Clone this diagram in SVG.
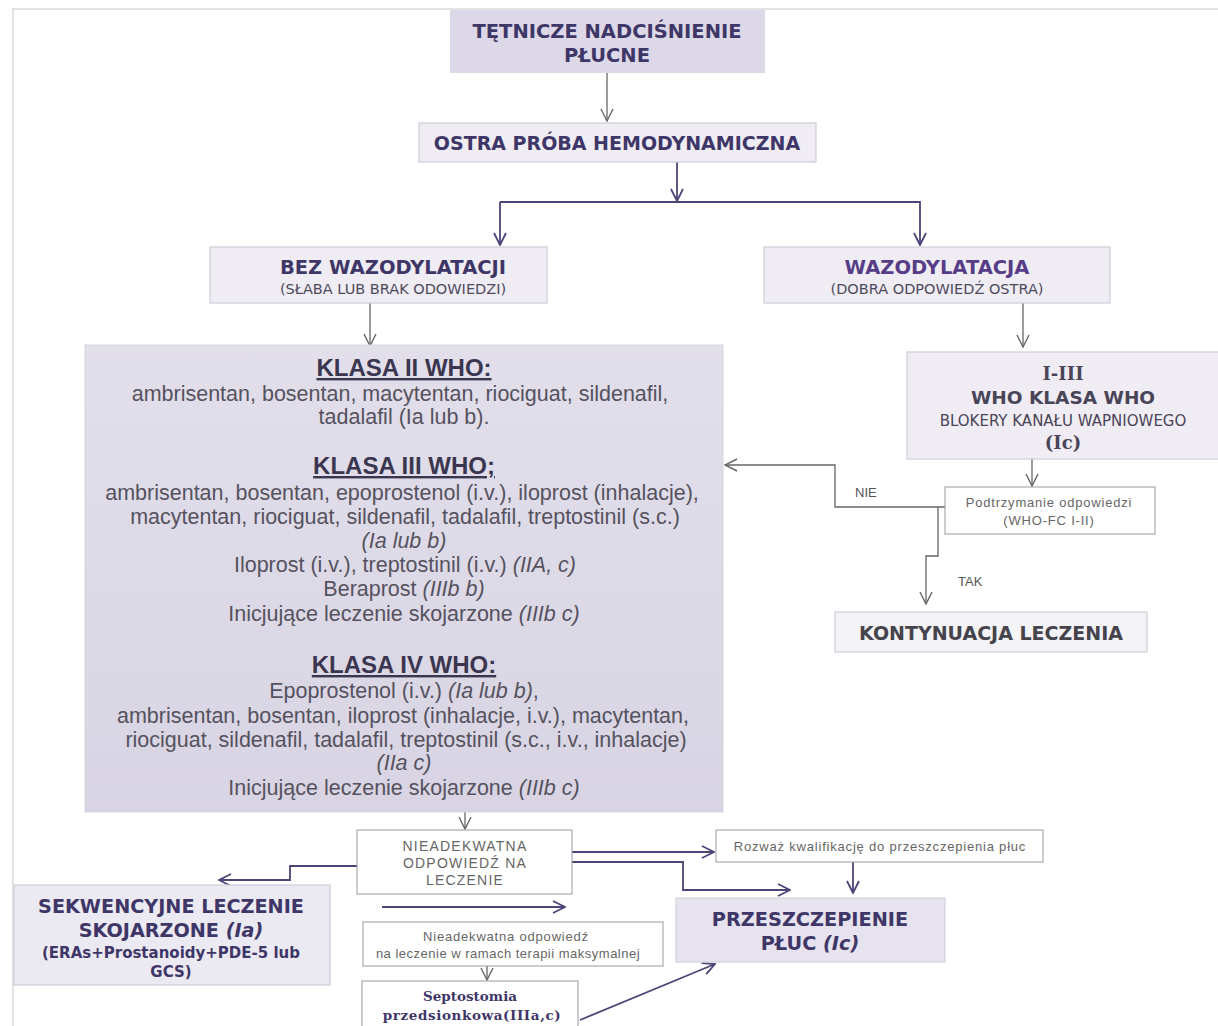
<svg xmlns="http://www.w3.org/2000/svg" width="1218" height="1026" viewBox="0 0 1218 1026">
  <defs>
    <marker id="arrP" viewBox="0 0 14 14" refX="13" refY="7" markerWidth="14" markerHeight="14" markerUnits="userSpaceOnUse" orient="auto">
      <path d="M1,1 L13,7 L1,13" fill="none" stroke="#4e4478" stroke-width="1.8"/>
    </marker>
    <marker id="arrG" viewBox="0 0 14 14" refX="13" refY="7" markerWidth="14" markerHeight="14" markerUnits="userSpaceOnUse" orient="auto">
      <path d="M1,1 L13,7 L1,13" fill="none" stroke="#666" stroke-width="1.4"/>
    </marker>
    <linearGradient id="bigFill" x1="0" y1="0" x2="0" y2="1">
      <stop offset="0" stop-color="#e2dfeb"/>
      <stop offset="1" stop-color="#d8d4e3"/>
    </linearGradient>
    <style>
      .hd { font-family: "DejaVu Sans", Verdana, sans-serif; font-weight: bold; fill: #3f3668; text-anchor: middle; }
      .sub { font-family: "DejaVu Sans", Verdana, sans-serif; fill: #4e4a5e; text-anchor: middle; font-size: 14.5px; }
      .sr { font-family: "DejaVu Serif", Georgia, serif; font-weight: bold; fill: #4a4458; text-anchor: middle; }
      .body { font-family: "Liberation Sans", Arial, sans-serif; fill: #55525e; text-anchor: middle; font-size: 21.5px; }
      .kl { font-family: "Liberation Sans", Arial, sans-serif; font-weight: bold; fill: #3b3650; text-anchor: middle; font-size: 24px; text-decoration: underline; }
      .sm { font-family: "Liberation Sans", Arial, sans-serif; fill: #666; text-anchor: middle; font-size: 13px; letter-spacing: 0.8px; }
      .lbl { font-family: "Liberation Sans", Arial, sans-serif; fill: #555; font-size: 13px; }
      .it { font-style: italic; }
      .boxW { fill: #ffffff; stroke: #9a9aa2; stroke-width: 1; }
      .boxL { fill: #efedf3; stroke: #cfccd8; stroke-width: 1.2; }
      .boxM { fill: #e6e3ee; stroke: #d2cfdc; stroke-width: 1.2; }
      .cP { fill: none; stroke: #4e4478; stroke-width: 1.8; }
      .cG { fill: none; stroke: #666; stroke-width: 1.3; }
    </style>
  </defs>

  <!-- page frame -->
  <path d="M13,1026 L13,9 L1218,9" fill="none" stroke="#d9d9d9" stroke-width="1.5"/>

  <!-- connectors -->
  <g id="connectors">
    <path class="cG" d="M607,73 L607,121" marker-end="url(#arrG)"/>
    <path class="cP" d="M677,162 L677,201" marker-end="url(#arrP)"/>
    <path class="cP" d="M500,202 L920,202 L920,245" marker-end="url(#arrP)"/>
    <path class="cP" d="M500,202 L500,245" marker-end="url(#arrP)"/>
    <path class="cG" d="M370,303 L370,346" marker-end="url(#arrG)"/>
    <path class="cG" d="M1023,303 L1023,347" marker-end="url(#arrG)"/>
    <path class="cG" d="M1032,459 L1032,486" marker-end="url(#arrG)"/>
    <!-- NIE branch -->
    <path class="cG" d="M945,507 L835,507 L835,465 L725,465" marker-end="url(#arrG)"/>
    <!-- TAK branch -->
    <path class="cG" d="M938,507 L938,556 L926,556 L926,604" marker-end="url(#arrG)"/>
    <path class="cG" d="M465,812 L465,829" marker-end="url(#arrG)"/>
    <path class="cP" d="M357,866 L290,866 L290,880 L219,880" marker-end="url(#arrP)"/>
    <path class="cP" d="M382,907 L565,907" marker-end="url(#arrP)"/>
    <path class="cP" d="M572,852 L714,852" marker-end="url(#arrP)"/>
    <path class="cP" d="M572,862 L683,862 L683,890 L790,890" marker-end="url(#arrP)"/>
    <path class="cP" d="M853,862 L853,893" marker-end="url(#arrP)"/>
    <path class="cG" d="M487,966 L487,980" marker-end="url(#arrG)"/>
    <path class="cP" d="M580,1020 L715,964" marker-end="url(#arrP)"/>
  </g>

  <g id="n-tnp">
    <rect x="450" y="10" width="315" height="63" fill="#ddd8e8"/>
    <text class="hd" x="607" y="38" font-size="19.5">TĘTNICZE NADCIŚNIENIE</text>
    <text class="hd" x="607" y="62" font-size="19.5">PŁUCNE</text>
  </g>

  <g id="n-proba">
    <rect class="boxL" x="419" y="123" width="397" height="39"/>
    <text class="hd" x="617" y="150" font-size="19">OSTRA PRÓBA HEMODYNAMICZNA</text>
  </g>

  <g id="n-bez">
    <rect class="boxL" x="210" y="247" width="337" height="56"/>
    <text class="hd" x="393" y="274" font-size="19.5">BEZ WAZODYLATACJI</text>
    <text class="sub" x="393" y="294">(SŁABA LUB BRAK ODOWIEDZI)</text>
  </g>

  <g id="n-waz">
    <rect class="boxL" x="764" y="247" width="346" height="56"/>
    <text class="hd" x="937" y="274" font-size="19.5" style="fill:#573d87">WAZODYLATACJA</text>
    <text class="sub" x="937" y="294">(DOBRA ODPOWIEDŹ OSTRA)</text>
  </g>

  <g id="n-klasy">
    <rect x="85" y="345" width="638" height="467" fill="url(#bigFill)" stroke="#d6d3de" stroke-width="1"/>
    <text class="kl" x="404" y="376">KLASA II WHO:</text>
    <text class="body" x="400" y="401">ambrisentan, bosentan, macytentan, riociguat, sildenafil,</text>
    <text class="body" x="404" y="424">tadalafil (Ia lub b).</text>
    <text class="kl" x="404" y="474">KLASA III WHO;</text>
    <text class="body" x="402" y="500">ambrisentan, bosentan, epoprostenol (i.v.), iloprost (inhalacje),</text>
    <text class="body" x="405" y="524">macytentan, riociguat, sildenafil, tadalafil, treptostinil (s.c.)</text>
    <text class="body it" x="404" y="548">(Ia lub b)</text>
    <text class="body" x="405" y="572">Iloprost (i.v.), treptostinil (i.v.) <tspan class="it">(IIA, c)</tspan></text>
    <text class="body" x="404" y="596">Beraprost <tspan class="it">(IIIb b)</tspan></text>
    <text class="body" x="404" y="621">Inicjujące leczenie skojarzone <tspan class="it">(IIIb c)</tspan></text>
    <text class="kl" x="404" y="673">KLASA IV WHO:</text>
    <text class="body" x="404" y="698">Epoprostenol (i.v.) <tspan class="it">(Ia lub b)</tspan>,</text>
    <text class="body" x="403" y="723">ambrisentan, bosentan, iloprost (inhalacje, i.v.), macytentan,</text>
    <text class="body" x="406" y="747">riociguat, sildenafil, tadalafil, treptostinil (s.c., i.v., inhalacje)</text>
    <text class="body it" x="404" y="770">(IIa c)</text>
    <text class="body" x="404" y="795">Inicjujące leczenie skojarzone <tspan class="it">(IIIb c)</tspan></text>
  </g>

  <g id="n-blokery">
    <rect class="boxL" x="907" y="352" width="320" height="107"/>
    <text class="sr" x="1063" y="380" font-size="18">I-III</text>
    <text class="hd" x="1063" y="404" font-size="18.5" style="fill:#4a4458">WHO KLASA WHO</text>
    <text class="sub" x="1063" y="426" style="font-size:15px;fill:#4a4458">BLOKERY KANAŁU WAPNIOWEGO</text>
    <text class="sr" x="1063" y="449" font-size="18">(Ic)</text>
  </g>

  <g id="n-podtrz">
    <rect class="boxW" x="945" y="487" width="210" height="47"/>
    <text class="sm" x="1049" y="507">Podtrzymanie odpowiedzi</text>
    <text class="sm" x="1049" y="525">(WHO-FC I-II)</text>
  </g>
  <text class="lbl" x="855" y="497">NIE</text>
  <text class="lbl" x="958" y="586">TAK</text>

  <g id="n-kont">
    <rect class="boxL" x="835" y="612" width="312" height="40" style="fill:#f3f2f5"/>
    <text class="hd" x="991" y="640" font-size="19" style="fill:#45434c">KONTYNUACJA LECZENIA</text>
  </g>

  <g id="n-nieadek">
    <rect class="boxW" x="357" y="830" width="215" height="64"/>
    <text class="sm" x="465" y="851" style="font-size:14px;letter-spacing:1.2px">NIEADEKWATNA</text>
    <text class="sm" x="465" y="868" style="font-size:14px;letter-spacing:1.2px">ODPOWIEDŹ NA</text>
    <text class="sm" x="465" y="885" style="font-size:14px;letter-spacing:1.2px">LECZENIE</text>
  </g>

  <g id="n-sekw">
    <rect class="boxL" x="14" y="885" width="316" height="100" style="fill:#ebe9f1"/>
    <text class="hd" x="171" y="913" font-size="19.2">SEKWENCYJNE LECZENIE</text>
    <text class="hd" x="171" y="937" font-size="19.2">SKOJARZONE <tspan class="it">(Ia)</tspan></text>
    <text class="hd" x="171" y="958" font-size="15">(ERAs+Prostanoidy+PDE-5 lub</text>
    <text class="hd" x="171" y="977" font-size="15">GCS)</text>
  </g>

  <g id="n-maks">
    <rect class="boxW" x="363" y="922" width="300" height="44"/>
    <text class="sm" x="506" y="941">Nieadekwatna odpowiedź</text>
    <text class="sm" x="508" y="958" style="letter-spacing:0.5px">na leczenie w ramach terapii  maksymalnej</text>
  </g>

  <g id="n-septo">
    <rect class="boxW" x="362" y="981" width="216" height="50"/>
    <text class="sr" x="470" y="1001" font-size="13.5" style="fill:#3f3668">Septostomia</text>
    <text class="sr" x="472" y="1020" font-size="13.5" style="fill:#3f3668;letter-spacing:0.6px">przedsionkowa(IIIa,c)</text>
  </g>

  <g id="n-rozwaz">
    <rect class="boxW" x="716" y="830" width="327" height="32"/>
    <text class="sm" x="880" y="851">Rozważ kwalifikację do przeszczepienia płuc</text>
  </g>

  <g id="n-przeszcz">
    <rect class="boxM" x="676" y="898" width="269" height="64"/>
    <text class="hd" x="810" y="926" font-size="19.3">PRZESZCZEPIENIE</text>
    <text class="hd" x="810" y="950" font-size="19.3">PŁUC <tspan class="it">(Ic)</tspan></text>
  </g>
</svg>
